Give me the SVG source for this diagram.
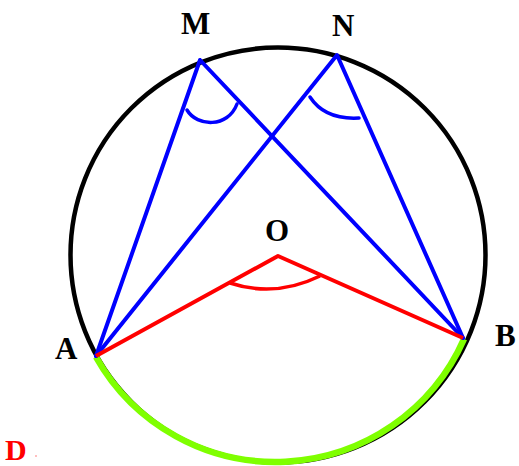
<svg xmlns="http://www.w3.org/2000/svg" width="519" height="466" viewBox="0 0 519 466">
<style>
.lbl{font-family:"Liberation Serif","Times New Roman",serif;font-weight:bold;font-size:31px;fill:#000}
.blue{stroke:#0000ff;stroke-width:4;fill:none;stroke-linecap:round;stroke-linejoin:round}
.red{stroke:#ff0000;stroke-width:4;fill:none;stroke-linejoin:round}
.mark{stroke-width:3.5}
</style>
<rect width="519" height="466" fill="#fff"/>
<g id="circle">
<circle cx="278" cy="255" r="207.5" fill="none" stroke="#000" stroke-width="4.5"/>
<path d="M96,357 A206,206 0 0 0 464,339" fill="none" stroke="#7fff00" stroke-width="6.5"/>
</g>
<g id="connectors">
<path class="blue" d="M96,356 L200,60 L463,338"/>
<path class="blue" d="M96,356 L337,55 L463,338"/>
<path class="red" d="M96,356 L278,256 L463,338"/>
<path class="blue mark" d="M187,110 C197,127 228,128 237,104"/>
<path class="blue mark" d="M310,97 Q325,120 359,118"/>
<path class="red mark" d="M230,283 Q275,298 320,276"/>
</g>
<g id="M"><text class="lbl" x="181" y="34">M</text></g>
<g id="N"><text class="lbl" x="332" y="36">N</text></g>
<g id="O"><text class="lbl" x="265" y="241">O</text></g>
<g id="A"><text class="lbl" x="55" y="359">A</text></g>
<g id="B"><text class="lbl" x="495" y="346">B</text></g>
<g id="D"><text class="lbl" x="5" y="460" style="fill:#ff0000;font-size:30px">D</text><rect x="35.5" y="455.5" width="1" height="1" fill="#ff0000"/></g>
</svg>
